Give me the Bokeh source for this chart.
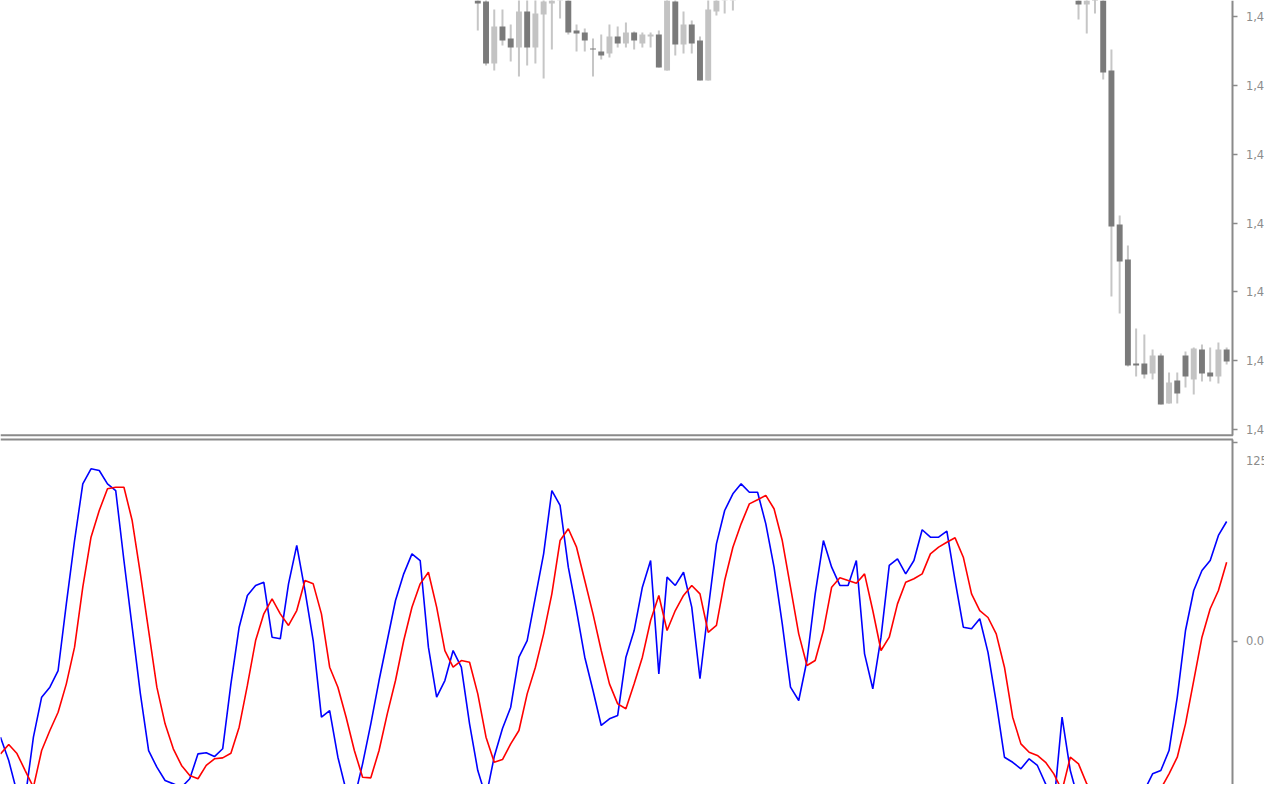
from bokeh.plotting import figure
from bokeh.layouts import column
from bokeh.models import (ColumnDataSource, Range1d, LinearAxis, FixedTicker,
                          CustomJSTickFormatter)
from bokeh.embed import file_html
from bokeh.resources import INLINE

# ---------------- price panel (visible candles only) ----------------
candle_bar = [58, 59, 60, 61, 62, 63, 64, 65, 66, 67, 68, 69, 70, 71, 72, 73, 74, 75, 76, 77,
              78, 79, 80, 81, 82, 83, 84, 85, 86, 87, 88, 89,
              131, 132, 133, 134, 135, 136, 137, 138, 139, 140, 141, 142, 143, 144, 145, 146, 147, 148, 149]
candle_open = [1.42515, 1.42499, 1.42437, 1.42474, 1.42462, 1.42453, 1.42489, 1.42453, 1.42486, 1.42497,
               1.42505, 1.42520, 1.42470, 1.42468, 1.42452, 1.42449, 1.42447, 1.42464, 1.42457, 1.42468,
               1.42457, 1.42464, 1.42466, 1.42430, 1.42499, 1.42456, 1.42476, 1.42460, 1.42420, 1.42489,
               1.42506, 1.42510,
               1.42510, 1.42496, 1.42530, 1.42505, 1.42430, 1.42276, 1.42241, 1.42137, 1.42137, 1.42127,
               1.42145, 1.42097, 1.42120, 1.42145, 1.42121, 1.42151, 1.42128, 1.42124, 1.42151]
candle_high = [1.42525, 1.42508, 1.42491, 1.42491, 1.42476, 1.42510, 1.42505, 1.42506, 1.42512, 1.42520,
               1.42540, 1.42530, 1.42476, 1.42472, 1.42462, 1.42466, 1.42476, 1.42474, 1.42478, 1.42469,
               1.42468, 1.42468, 1.42470, 1.42510, 1.42505, 1.42489, 1.42480, 1.42464, 1.42503, 1.42515,
               1.42530, 1.42535,
               1.42520, 1.42525, 1.42540, 1.42510, 1.42451, 1.42285, 1.42255, 1.42172, 1.42166, 1.42151,
               1.42147, 1.42128, 1.42128, 1.42149, 1.42153, 1.42156, 1.42153, 1.42158, 1.42153]
candle_low = [1.42470, 1.42435, 1.42430, 1.42455, 1.42439, 1.42424, 1.42435, 1.42437, 1.42422, 1.42451,
              1.42482, 1.42466, 1.42449, 1.42449, 1.42424, 1.42441, 1.42443, 1.42453, 1.42453, 1.42451,
              1.42453, 1.42453, 1.42433, 1.42430, 1.42445, 1.42447, 1.42447, 1.42420, 1.42420, 1.42485,
              1.42487, 1.42490,
              1.42481, 1.42467, 1.42487, 1.42421, 1.42204, 1.42187, 1.42134, 1.42124, 1.42122, 1.42121,
              1.42096, 1.42097, 1.42097, 1.42113, 1.42106, 1.42119, 1.42119, 1.42117, 1.42136]
candle_close = [1.42497, 1.42437, 1.42474, 1.42460, 1.42453, 1.42489, 1.42453, 1.42487, 1.42499, 1.42510,
                1.42530, 1.42468, 1.42467, 1.42460, 1.42451, 1.42445, 1.42464, 1.42457, 1.42468, 1.42460,
                1.42466, 1.42466, 1.42433, 1.42502, 1.42456, 1.42476, 1.42457, 1.42420, 1.42491, 1.42508,
                1.42525, 1.42530,
                1.42496, 1.42515, 1.42505, 1.42428, 1.42274, 1.42239, 1.42135, 1.42135, 1.42126, 1.42145,
                1.42096, 1.42118, 1.42107, 1.42124, 1.42152, 1.42127, 1.42124, 1.42151, 1.42139]
price_ticks = [1.42484, 1.42415, 1.42346, 1.42277, 1.42209, 1.42140, 1.42071]

# ---------------- oscillator panel ----------------
osc_bar = list(range(150))
main_line = [-60.6, -75.3, -95.3, -99.2, -60.6, -35.4, -29.1, -18.6, 23.4, 63.3,
             99.0, 108.5, 107.4, 99.0, 94.8, 50.7, 8.7, -33.3, -69.0, -79.5,
             -87.9, -90.0, -92.1, -86.8, -71.1, -70.4, -72.8, -67.9, -27.0, 8.7,
             28.7, 35.0, 37.0, 2.4, 1.4, 36.0, 60.2, 31.8, 0.3, -48.0,
             -43.8, -73.2, -94.2, -99.4, -77.4, -52.2, -24.9, 0.3, 25.5, 42.3,
             54.9, 50.7, -3.9, -35.4, -24.9, -6.0, -16.5, -52.2, -81.6, -98.4,
             -72.8, -55.1, -41.7, -10.2, 0.3, 27.6, 54.9, 94.8, 85.4, 46.5,
             19.2, -10.2, -31.2, -53.2, -49.0, -46.9, -10.2, 6.6, 33.9, 50.7,
             -20.7, 40.2, 35.0, 43.3, 21.3, -23.8, 20.0, 61.2, 82.2, 92.7,
             99.0, 93.7, 93.7, 73.8, 46.5, 10.8, -29.1, -37.5, -12.3, 29.7,
             63.3, 46.5, 35.0, 35.0, 50.7, -8.1, -30.1, 2.4, 47.6, 51.8,
             42.3, 50.7, 70.1, 65.4, 65.4, 69.2, 38.1, 8.7, 7.7, 14.0,
             -7.2, -38.7, -73.2, -76.4, -80.5, -74.2, -78.4, -90.0, -103.6, -48.0,
             -81.6, -100.5, -99.2, -94.2, -96.3, -106.8, -109.9, -106.8, -100.5, -94.2,
             -83.7, -81.6, -69.0, -35.4, 6.6, 31.8, 44.4, 50.7, 66.5, 75.3]
signal_line = [-71.1, -65.2, -70.9, -81.6, -92.1, -69.0, -56.4, -44.9, -27.0, -3.9,
               33.9, 65.4, 82.2, 95.9, 96.9, 96.9, 75.9, 42.3, 6.6, -29.1,
               -52.2, -67.9, -78.4, -84.7, -86.8, -78.4, -74.2, -73.6, -70.7, -54.3,
               -28.0, 0.3, 17.1, 26.6, 17.1, 9.8, 19.2, 38.1, 36.0, 17.1,
               -16.5, -29.1, -48.0, -69.0, -85.8, -86.2, -69.0, -45.9, -24.9, 0.3,
               21.3, 36.0, 43.3, 21.3, -6.0, -16.5, -12.3, -13.4, -33.3, -60.6,
               -76.4, -74.7, -64.8, -56.4, -33.3, -16.5, 4.5, 29.7, 63.3, 70.7,
               59.1, 38.1, 17.1, -6.0, -27.0, -39.6, -42.7, -27.0, -10.2, 12.9,
               28.7, 6.6, 19.2, 28.7, 35.0, 29.7, 5.5, 9.8, 38.1, 59.1,
               73.8, 86.4, 89.0, 91.7, 83.3, 63.3, 33.9, 4.5, -15.4, -12.3,
               6.6, 33.9, 39.8, 38.1, 36.4, 42.3, 19.2, -6.0, 2.4, 23.4,
               37.0, 39.2, 42.3, 54.9, 59.1, 62.2, 65.0, 52.8, 29.7, 19.2,
               14.8, 4.5, -16.5, -48.0, -64.8, -70.1, -72.1, -76.4, -83.7, -94.2,
               -73.2, -77.4, -90.0, -94.2, -94.2, -96.3, -103.6, -108.0, -108.0, -105.5,
               -100.5, -93.1, -83.7, -73.2, -52.2, -24.9, 2.4, 20.3, 31.8, 49.6]
osc_ticks = [0.0, 125.0]
osc_tick_labels = ["0.00", "\n125.00"]

# ---------------- layout / styling ----------------
W = 1264
X_VIEW_END = 153.6     # right edge of the window (the price scale is cropped there)
X_AXIS = 149.76        # where the price scale sits
PRICE_LO, PRICE_HI = 1.42063, 1.42500
PRICE_EDGE = 1.420653  # lower edge of the price pane
OSC_LO, OSC_HI = -90.4, 128.2
OSC_EDGE = 126.95      # upper edge of the oscillator pane
AXIS_COLOR = "#8a8a8a"
LABEL_COLOR = "#8c8c8c"
FONT = "DejaVu Sans"
BULL = "#c3c3c3"
BEAR = "#7a7a7a"
WICK = "#c6c6c6"


def price_axis(ticks, bounds):
    ax = LinearAxis(fixed_location=X_AXIS, bounds=bounds,
                    ticker=FixedTicker(ticks=ticks, minor_ticks=[]))
    ax.axis_line_color = AXIS_COLOR
    ax.axis_line_width = 2
    ax.major_tick_line_color = AXIS_COLOR
    ax.major_tick_line_width = 1.5
    ax.major_tick_in = 0
    ax.major_tick_out = 5
    ax.minor_tick_line_color = None
    ax.major_label_standoff = 8
    ax.major_label_text_font = FONT
    ax.major_label_text_font_size = "11.5px"
    ax.major_label_text_color = LABEL_COLOR
    return ax


common = dict(width=W, output_backend="svg", toolbar_location=None,
              x_axis_location=None, y_axis_location=None,
              min_border_left=0, min_border_right=0, min_border_top=0, min_border_bottom=0,
              background_fill_color="white", border_fill_color="white",
              outline_line_color=None)

# top: candles
src = ColumnDataSource(dict(
    bar=candle_bar,
    high=candle_high,
    low=candle_low,
    top=[max(o, c) for o, c in zip(candle_open, candle_close)],
    bottom=[min(o, c) for o, c in zip(candle_open, candle_close)],
    color=[BULL if c >= o else BEAR for o, c in zip(candle_open, candle_close)],
))

p1 = figure(height=437, x_range=Range1d(0, X_VIEW_END), y_range=Range1d(PRICE_LO, PRICE_HI), **common)
p1.grid.visible = False
p1.segment(x0="bar", y0="low", x1="bar", y1="high", source=src, line_color=WICK, line_width=2)
p1.vbar(x="bar", width=0.72, top="top", bottom="bottom", fill_color="color",
        line_color=None, source=src)
p1.segment(x0=[0], y0=[PRICE_EDGE], x1=[X_AXIS], y1=[PRICE_EDGE], line_color=AXIS_COLOR, line_width=2)
ax1 = price_axis(price_ticks, (PRICE_EDGE, PRICE_HI))
ax1.formatter = CustomJSTickFormatter(code="return tick.toFixed(5).replace('.', ',');")
p1.add_layout(ax1, "right")

# bottom: oscillator
p2 = figure(height=347, x_range=Range1d(0, X_VIEW_END), y_range=Range1d(OSC_LO, OSC_HI), **common)
p2.grid.visible = False
p2.line(osc_bar, main_line, line_color="#0000ff", line_width=1.6)
p2.line(osc_bar, signal_line, line_color="#ff0000", line_width=1.6)
p2.segment(x0=[0], y0=[OSC_EDGE], x1=[X_AXIS], y1=[OSC_EDGE], line_color=AXIS_COLOR, line_width=2)
ax2 = price_axis(osc_ticks, (OSC_LO, OSC_EDGE))
ax2.major_label_overrides = dict(zip(osc_ticks, osc_tick_labels))
p2.add_layout(ax2, "right")

layout = column(p1, p2, spacing=0)
open("out.html", "w").write(file_html(layout, INLINE))
